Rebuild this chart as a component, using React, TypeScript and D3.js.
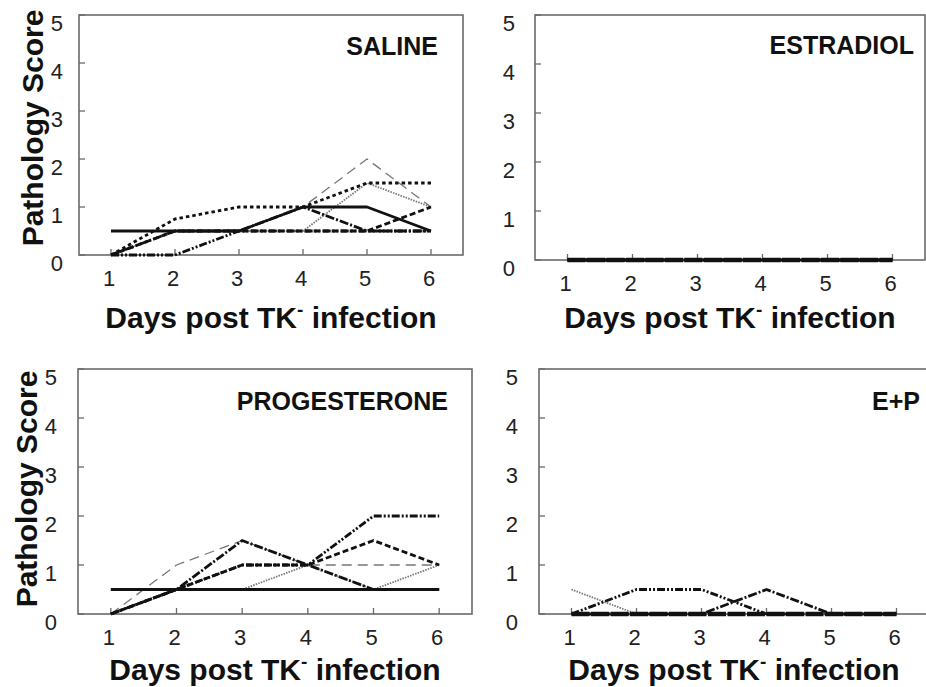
import React from "react";
import * as d3 from "d3";

const days = [1, 2, 3, 4, 5, 6];
const yTicks = [0, 1, 2, 3, 4, 5];
const xTicks = [1, 2, 3, 4, 5, 6];

// SALINE
const sal1 = [0.5, 0.5, 0.5, 1, 1, 0.5];
const sal2 = [0, 0.5, 0.5, 1, 0.5, 0.5];
const sal3 = [0, 0, 0.5, 0.5, 0.5, 0.5];
const sal4 = [0, 0.5, 0.5, 0.5, 0.5, 1];
const sal5 = [0, 0.75, 1, 1, 1.5, 1.5];
const sal6 = [0, 0.5, 0.5, 1, 2, 1];
const sal7 = [0.5, 0.5, 0.5, 0.5, 1.5, 1];

// ESTRADIOL
const est1 = [0, 0, 0, 0, 0, 0];
const est2 = [0, 0, 0, 0, 0, 0];
const est3 = [0, 0, 0, 0, 0, 0];
const est4 = [0, 0, 0, 0, 0, 0];

// PROGESTERONE
const pro1 = [0.5, 0.5, 0.5, 0.5, 0.5, 0.5];
const pro2 = [0, 0.5, 1.5, 1, 0.5, 0.5];
const pro3 = [0, 0.5, 1, 1, 1.5, 1];
const pro4 = [0, 0.5, 1, 1, 2, 2];
const pro5 = [0, 1, 1.5, 1, 1, 1];
const pro6 = [0.5, 0.5, 0.5, 1, 0.5, 1];

// E+P
const ep1 = [0, 0, 0, 0, 0, 0];
const ep2 = [0.5, 0, 0, 0, 0, 0];
const ep3 = [0, 0.5, 0.5, 0, 0, 0];
const ep4 = [0, 0, 0, 0.5, 0, 0];

const styles: Record<string, { stroke: string; width: number; dash: string }> = {
  solid: { stroke: "#111", width: 2.8, dash: "none" },
  heavy: { stroke: "#111", width: 4.5, dash: "18,1.5" },
  dashdot: { stroke: "#111", width: 2.8, dash: "9,2,2,2" },
  dashdotdot: { stroke: "#111", width: 2.8, dash: "8,2,2,2,2,2" },
  dashed: { stroke: "#111", width: 2.8, dash: "6,3" },
  dotted: { stroke: "#111", width: 2.8, dash: "3.5,3" },
  grayDash: { stroke: "#777", width: 1.3, dash: "10,6" },
  grayDot: { stroke: "#777", width: 1.8, dash: "1.5,1.2" },
};

const panels = [
  {
    title: "SALINE", left: 79, top: 15, right: 463, bottom: 255, titleX: 438, titleY: 55,
    yLabGap: 16, yTitle: { x: 43, y: 128 }, xTitleY: 328,
    series: [
      { s: "grayDot", v: sal7 }, { s: "grayDash", v: sal6 }, { s: "dashed", v: sal4 },
      { s: "dashdotdot", v: sal3 }, { s: "dotted", v: sal5 }, { s: "dashdot", v: sal2 },
      { s: "solid", v: sal1 },
    ],
  },
  {
    title: "ESTRADIOL", left: 535, top: 15, right: 925, bottom: 260, titleX: 914, titleY: 54,
    yLabGap: 20, yTitle: null, xTitleY: 328,
    series: [
      { s: "dashed", v: est2 }, { s: "dashdot", v: est3 },
      { s: "dashdotdot", v: est4 }, { s: "heavy", v: est1 },
    ],
  },
  {
    title: "PROGESTERONE", left: 78, top: 369, right: 472, bottom: 614, titleX: 448, titleY: 410,
    yLabGap: 21, yTitle: { x: 37, y: 489 }, xTitleY: 680,
    series: [
      { s: "grayDot", v: pro6 }, { s: "grayDash", v: pro5 }, { s: "dashed", v: pro3 },
      { s: "dashdotdot", v: pro4 }, { s: "dashdot", v: pro2 }, { s: "solid", v: pro1 },
    ],
  },
  {
    title: "E+P", left: 539, top: 369, right: 929, bottom: 614, titleX: 920, titleY: 410,
    yLabGap: 21, yTitle: null, xTitleY: 680,
    series: [
      { s: "grayDot", v: ep2 }, { s: "dashdotdot", v: ep3 }, { s: "dashdot", v: ep4 },
      { s: "heavy", v: ep1 },
    ],
  },
];

const FONT = "'Liberation Sans', Arial, Helvetica, sans-serif";

function Panel({ p }: { p: (typeof panels)[number] }) {
  const x = d3.scaleLinear().domain([0.5, 6.5]).range([p.left, p.right]);
  const y = d3.scaleLinear().domain([0, 5]).range([p.bottom, p.top]);
  const frame = "#6a6a6a";
  return (
    <g>
      <rect x={p.left} y={p.top} width={p.right - p.left} height={p.bottom - p.top}
        fill="none" stroke={frame} strokeWidth={1.6} />
      {yTicks.map((t) => (
        <g key={"y" + t}>
          <line x1={p.left} x2={p.left + 6} y1={y(t)} y2={y(t)} stroke={frame} strokeWidth={1.3} />
          <text x={p.left - p.yLabGap} y={y(t) + 8} textAnchor="end" dominantBaseline="central"
            fontFamily={FONT} fontSize={22} fill="#222">{t}</text>
        </g>
      ))}
      {xTicks.map((t) => (
        <g key={"x" + t}>
          <line x1={x(t)} x2={x(t)} y1={p.bottom} y2={p.bottom - 6} stroke={frame} strokeWidth={1.3} />
          <text x={x(t) - 2} y={p.bottom + 23} textAnchor="middle" dominantBaseline="central"
            fontFamily={FONT} fontSize={22} fill="#222">{t}</text>
        </g>
      ))}
      {p.series.map((sr, i) => {
        const st = styles[sr.s];
        const line = d3.line<number>().x((_, j) => x(days[j])).y((d) => y(d));
        return (
          <path key={i} d={line(sr.v) || ""} fill="none" stroke={st.stroke}
            strokeWidth={st.width} strokeDasharray={st.dash} strokeLinejoin="round" />
        );
      })}
      <text x={p.titleX} y={p.titleY} textAnchor="end" fontFamily={FONT} fontWeight="bold"
        fontSize={25} fill="#111">{p.title}</text>
      <text x={x(3.5)} y={p.xTitleY} textAnchor="middle" fontFamily={FONT} fontWeight="bold"
        fontSize={30} fill="#111">
        Days post TK<tspan fontSize={19} dy={-12}>-</tspan><tspan dy={12}> infection</tspan>
      </text>
      {p.yTitle && (
        <text transform={`translate(${p.yTitle.x},${p.yTitle.y}) rotate(-90)`} textAnchor="middle"
          fontFamily={FONT} fontWeight="bold" fontSize={30} fill="#111">Pathology Score</text>
      )}
    </g>
  );
}

export default function App() {
  return (
    <svg width={926} height={687} style={{ position: "absolute", left: 0, top: 0, background: "#fff" }}>
      <rect x={0} y={0} width={926} height={687} fill="#fff" />
      {panels.map((p) => (
        <Panel key={p.title} p={p} />
      ))}
    </svg>
  );
}
